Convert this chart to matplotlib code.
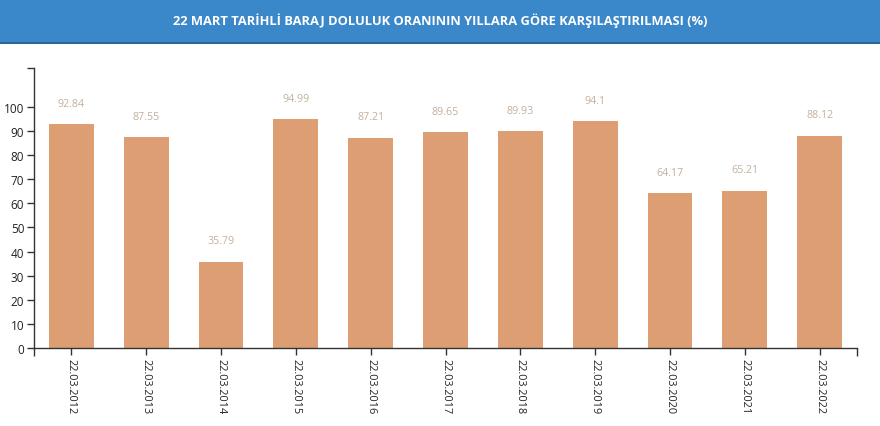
import matplotlib
matplotlib.use("Agg")
import matplotlib.pyplot as plt
from matplotlib.patches import Rectangle

plt.rcParams["font.family"] = ["Open Sans", "DejaVu Sans"]

dates = ["22.03.2012", "22.03.2013", "22.03.2014", "22.03.2015", "22.03.2016",
         "22.03.2017", "22.03.2018", "22.03.2019", "22.03.2020", "22.03.2021",
         "22.03.2022"]
values = [92.84, 87.55, 35.79, 94.99, 87.21, 89.65, 89.93, 94.1, 64.17, 65.21, 88.12]
value_labels = ["92.84", "87.55", "35.79", "94.99", "87.21", "89.65", "89.93",
                "94.1", "64.17", "65.21", "88.12"]
y_ticks = list(range(0, 101, 10))

title = "22 MART TARİHLİ BARAJ DOLULUK ORANININ YILLARA GÖRE KARŞILAŞTIRILMASI (%)"

fig = plt.figure(figsize=(8.8, 4.27), dpi=100)

# title bar
fig.patches.append(Rectangle((0, 1 - 44 / 427), 1, 44 / 427, transform=fig.transFigure,
                             facecolor="#3a87ca", edgecolor="none", zorder=0))
fig.patches.append(Rectangle((0, 1 - 45 / 427), 1, 2 / 427, transform=fig.transFigure,
                             facecolor="#2b6597", edgecolor="none", zorder=1))
fig.text(0.5, 1 - 21 / 427, title, color="white", fontsize=9.3, fontweight="bold",
         ha="center", va="center")

ax = fig.add_axes([34 / 880, 78 / 427, (857 - 34) / 880, 279.6 / 427])
x = list(range(len(dates)))
bars = ax.bar(x, values, width=0.6, color="#dc9e72", zorder=2)

for xi, v, lab in zip(x, values, value_labels):
    ax.annotate(lab, (xi, v), xytext=(0, 15), textcoords="offset points",
                ha="center", va="center", fontsize=7.7, color="#c4b09c")

ax.set_xlim(-0.5, len(dates) - 0.5)
ax.set_ylim(0, 116)
ax.set_yticks(y_ticks)
ax.set_yticks([116], minor=True)
ax.set_xticks(x)
ax.set_xticks([-0.5, len(dates) - 0.5], minor=True)
ax.set_xticklabels(dates, rotation=-90, fontsize=7.8, color="#222222")
ax.tick_params(axis="y", labelsize=8.5, labelcolor="#222222")
ax.tick_params(which="both", direction="out", length=5, width=1, color="#333333", pad=2)
ax.tick_params(axis="x", which="minor", length=6)

for s in ["top", "right"]:
    ax.spines[s].set_visible(False)
for s in ["left", "bottom"]:
    ax.spines[s].set_color("#333333")
    ax.spines[s].set_linewidth(1)

fig.savefig("out.png", dpi=100)
